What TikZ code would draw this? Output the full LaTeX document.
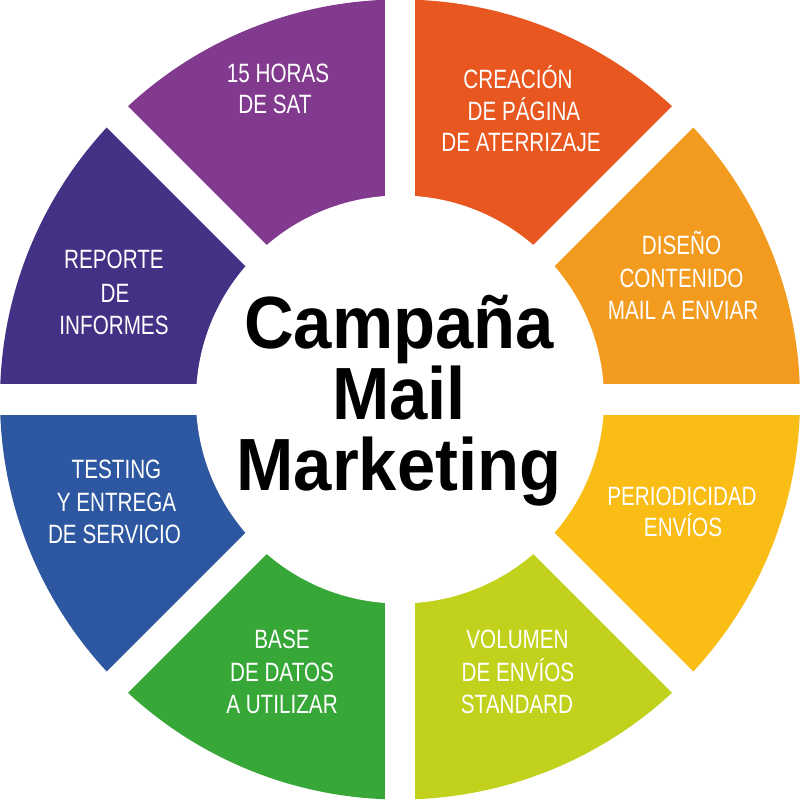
\documentclass[tikz,border=0pt]{standalone}
\usepackage{fontspec}
\usetikzlibrary{calc}
\newfontfamily\labelfont[FakeStretch=0.78]{Liberation Sans}
\newfontfamily\titlefont[FakeStretch=0.93]{Liberation Sans}
\definecolor{cRed}{HTML}{E8571F}
\definecolor{cOrange}{HTML}{F39B1F}
\definecolor{cYellow}{HTML}{FABD16}
\definecolor{cLime}{HTML}{C2D11B}
\definecolor{cGreen}{HTML}{37A838}
\definecolor{cBlue}{HTML}{2D57A1}
\definecolor{cIndigo}{HTML}{433185}
\definecolor{cPurple}{HTML}{823A8E}
\begin{document}
\begin{tikzpicture}[x=0.1mm,y=0.1mm,
  lbl/.style={anchor=base,inner sep=0pt,text=white,font=\labelfont\fontsize{7.54pt}{9pt}\selectfont},
  ttl/.style={anchor=base,inner sep=0pt,text=black,font=\titlefont\bfseries\fontsize{21.05pt}{20pt}\selectfont},
  gap/.style={white,line width=3mm}]
\fill[white] (0,0) rectangle (800,799);
\useasboundingbox (0,0) rectangle (800,799);
\coordinate (C) at (400,399.5);
\foreach \a/\c in {0/cOrange,45/cRed,90/cPurple,135/cIndigo,180/cBlue,225/cGreen,270/cLime,315/cYellow}{
  \fill[\c] (C) -- ++(\a:400) arc[start angle=\a, end angle=\a+45, radius=400] -- cycle;
}
\foreach \a in {0,45,90,135}{
  \draw[gap] ($(C)+(\a:430)$) -- ($(C)+(\a+180:430)$);
}
\fill[white] (C) circle[radius=204];
% labels
\node[lbl] (sat1) at (278,716.3) {15 HORAS};
\node[lbl] (sat2) at (275,685.7) {DE SAT};
\node[lbl] (cre1) at (518,710.7) {CREACIÓN};
\node[lbl] (cre2) at (524,678) {DE PÁGINA};
\node[lbl] (cre3) at (521,647.3) {DE ATERRIZAJE};
\node[lbl] (dis1) at (681.5,544.7) {DISEÑO};
\node[lbl] (dis2) at (681.5,511.3) {CONTENIDO};
\node[lbl] (dis3) at (683,479) {MAIL A ENVIAR};
\node[lbl] (rep1) at (114,530) {REPORTE};
\node[lbl] (rep2) at (115,496.7) {DE};
\node[lbl] (rep3) at (114,464) {INFORMES};
\node[lbl] (per1) at (682,294) {PERIODICIDAD};
\node[lbl] (per2) at (683,262.3) {ENVÍOS};
\node[lbl] (tes1) at (116.5,320.7) {TESTING};
\node[lbl] (tes2) at (116.5,287.3) {Y ENTREGA};
\node[lbl] (tes3) at (114.5,255.7) {DE SERVICIO};
\node[lbl] (bas1) at (282,150.7) {BASE};
\node[lbl] (bas2) at (282,118) {DE DATOS};
\node[lbl] (bas3) at (282,85.7) {A UTILIZAR};
\node[lbl] (vol1) at (517.5,150.7) {VOLUMEN};
\node[lbl] (vol2) at (518,118) {DE ENVÍOS};
\node[lbl] (vol3) at (517,85.7) {STANDARD};
% title
\node[ttl] (t1) at (399,450.7) {Campaña};
\node[ttl] (t2) at (399,379) {Mail};
\node[ttl] (t3) at (399,309) {Marketing};
\end{tikzpicture}
\end{document}
